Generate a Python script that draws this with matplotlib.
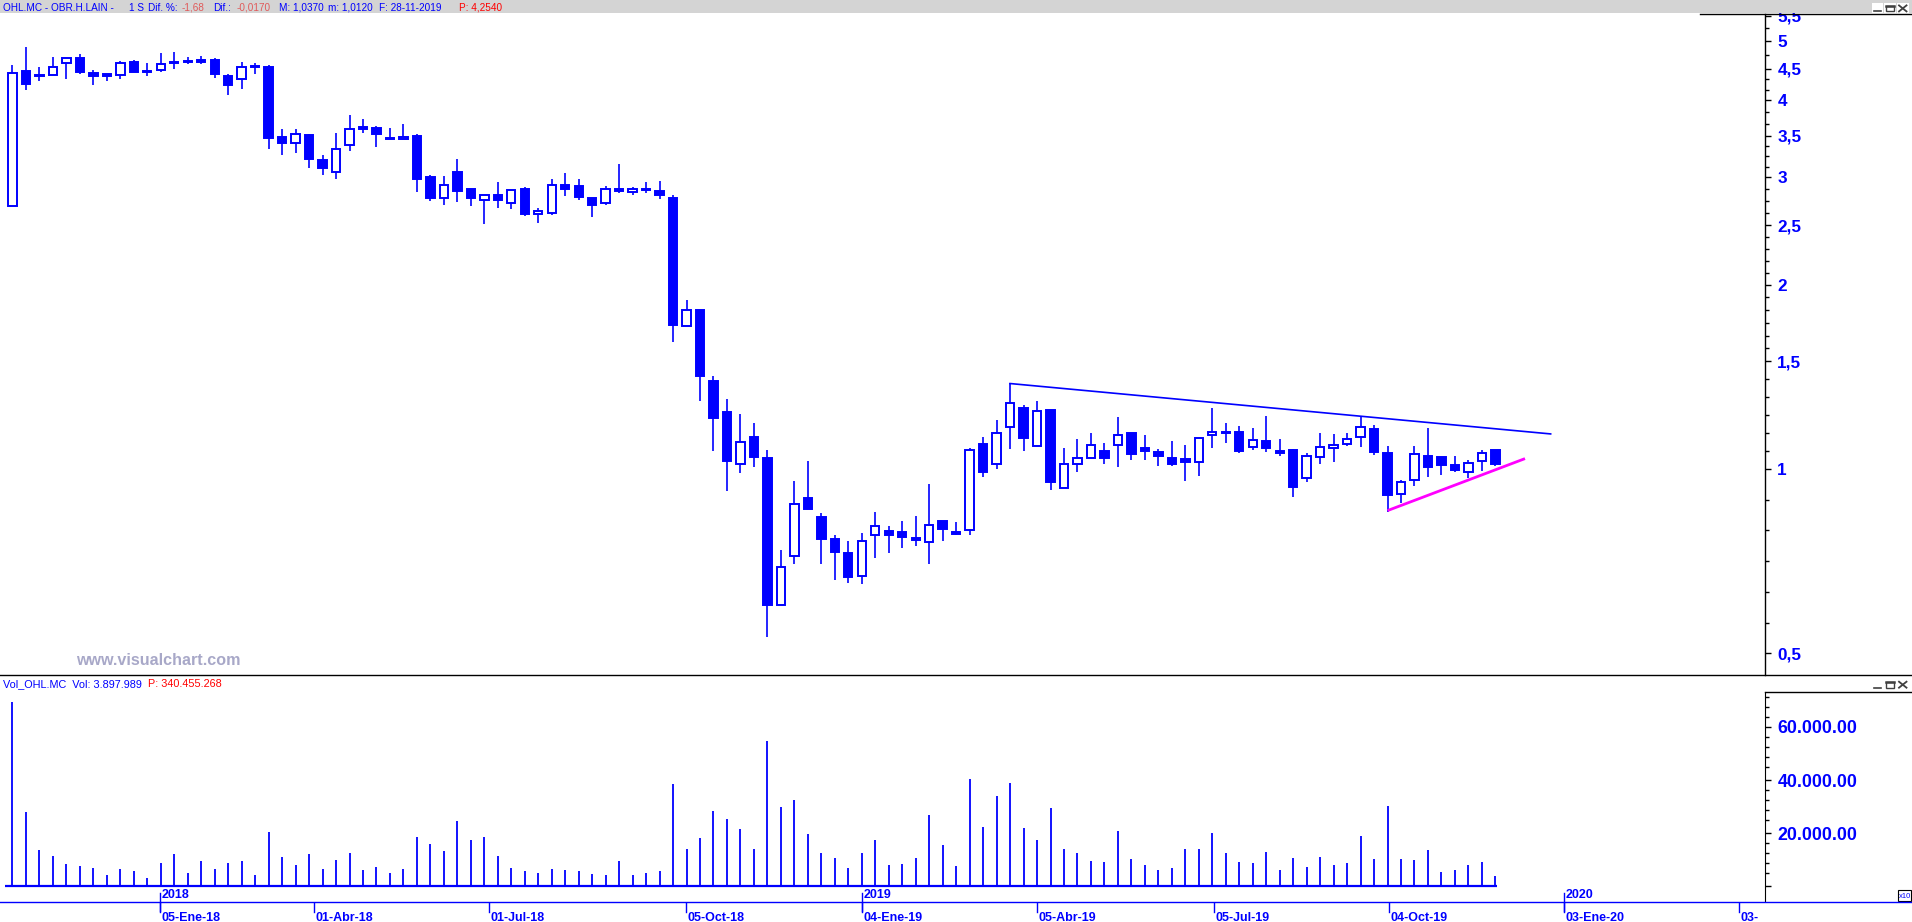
import numpy as np
import matplotlib
matplotlib.use("Agg")
import matplotlib.pyplot as plt
from matplotlib.ticker import FixedLocator, NullFormatter
from matplotlib.patches import Rectangle
import matplotlib.transforms as mtransforms

plt.rcParams['font.family'] = ['Liberation Sans', 'DejaVu Sans']

# ---------------- data (weekly bars, OHL.MC) ----------------
opens = [2.69, 4.46, 4.38, 4.40, 4.60, 4.68, 4.43, 4.41, 4.40, 4.62,
         4.47, 4.49, 4.60, 4.64, 4.65, 4.65, 4.38, 4.34, 4.55, 4.53,
         3.48, 3.40, 3.51, 3.20, 3.05, 3.38, 3.62, 3.60, 3.47, 3.46,
         3.50, 3.00, 2.77, 3.05, 2.86, 2.75, 2.80, 2.72, 2.87, 2.61,
         2.62, 2.91, 2.90, 2.77, 2.72, 2.87, 2.83, 2.86, 2.84, 2.77,
         1.71, 1.82, 1.39, 1.24, 1.02, 1.13, 1.042, 0.600, 0.720, 0.897,
         0.835, 0.769, 0.729, 0.668, 0.779, 0.791, 0.788, 0.772, 0.759, 0.822,
         0.789, 0.794, 1.097, 1.018, 1.170, 1.256, 1.089, 1.248, 0.930, 1.018,
         1.041, 1.069, 1.093, 1.144, 1.081, 1.065, 1.041, 1.037, 1.028, 1.135,
         1.147, 1.149, 1.085, 1.110, 1.070, 1.074, 0.966, 1.045, 1.081, 1.097,
         1.127, 1.161, 1.062, 0.909, 0.958, 1.049, 1.045, 1.015, 0.990, 1.032,
         1.074]
highs = [4.57, 4.88, 4.54, 4.71, 4.68, 4.76, 4.49, 4.42, 4.64, 4.65,
         4.60, 4.78, 4.80, 4.71, 4.72, 4.68, 4.41, 4.62, 4.60, 4.56,
         3.59, 3.59, 3.52, 3.26, 3.54, 3.78, 3.73, 3.63, 3.60, 3.66,
         3.52, 3.02, 3.01, 3.21, 2.87, 2.80, 2.94, 2.85, 2.89, 2.67,
         2.97, 3.04, 2.97, 2.77, 2.90, 3.15, 2.89, 2.94, 2.95, 2.80,
         1.89, 1.82, 1.42, 1.30, 1.23, 1.19, 1.074, 0.737, 0.956, 1.03,
         0.848, 0.780, 0.763, 0.786, 0.851, 0.807, 0.822, 0.838, 0.945, 0.822,
         0.819, 1.081, 1.128, 1.202, 1.380, 1.272, 1.291, 1.248, 1.082, 1.119,
         1.145, 1.103, 1.217, 1.144, 1.138, 1.078, 1.111, 1.096, 1.122, 1.258,
         1.189, 1.175, 1.167, 1.220, 1.121, 1.078, 1.062, 1.145, 1.141, 1.145,
         1.215, 1.179, 1.090, 0.959, 1.090, 1.167, 1.045, 1.050, 1.034, 1.074,
         1.074]
lows = [2.69, 4.16, 4.30, 4.40, 4.33, 4.42, 4.24, 4.30, 4.33, 4.44,
        4.39, 4.44, 4.50, 4.59, 4.59, 4.35, 4.08, 4.18, 4.42, 3.33,
        3.25, 3.28, 3.10, 3.02, 2.98, 3.31, 3.54, 3.36, 3.46, 3.46,
        2.83, 2.74, 2.70, 2.73, 2.69, 2.51, 2.67, 2.66, 2.59, 2.52,
        2.60, 2.79, 2.75, 2.58, 2.70, 2.82, 2.80, 2.82, 2.76, 1.61,
        1.71, 1.29, 1.07, 0.92, 0.986, 1.009, 0.532, 0.599, 0.700, 0.861,
        0.700, 0.659, 0.652, 0.650, 0.716, 0.730, 0.744, 0.750, 0.700, 0.763,
        0.781, 0.781, 0.972, 1.000, 1.078, 1.070, 1.089, 0.925, 0.930, 0.990,
        1.041, 1.020, 1.009, 1.036, 1.036, 1.012, 1.012, 0.957, 0.975, 1.082,
        1.104, 1.062, 1.075, 1.067, 1.051, 0.901, 0.953, 1.019, 1.028, 1.092,
        1.087, 1.055, 0.852, 0.880, 0.939, 0.972, 0.979, 0.989, 0.966, 0.992,
        1.011]
closes = [4.43, 4.26, 4.40, 4.54, 4.68, 4.44, 4.39, 4.38, 4.60, 4.44,
          4.44, 4.58, 4.62, 4.61, 4.62, 4.42, 4.23, 4.53, 4.53, 3.47,
          3.41, 3.53, 3.21, 3.10, 3.33, 3.59, 3.59, 3.53, 3.46, 3.49,
          2.98, 2.77, 2.91, 2.84, 2.77, 2.80, 2.75, 2.85, 2.61, 2.64,
          2.91, 2.87, 2.78, 2.70, 2.87, 2.84, 2.86, 2.85, 2.80, 1.72,
          1.82, 1.42, 1.21, 1.03, 1.106, 1.047, 0.600, 0.691, 0.876, 0.861,
          0.770, 0.733, 0.667, 0.762, 0.806, 0.781, 0.775, 0.767, 0.809, 0.797,
          0.784, 1.073, 0.988, 1.144, 1.280, 1.125, 1.242, 0.953, 1.018, 1.041,
          1.093, 1.043, 1.135, 1.057, 1.069, 1.051, 1.018, 1.028, 1.122, 1.148,
          1.149, 1.071, 1.114, 1.083, 1.063, 0.936, 1.050, 1.085, 1.094, 1.118,
          1.170, 1.067, 0.908, 0.951, 1.057, 1.009, 1.016, 0.997, 1.022, 1.061,
          1.019]
volumes = [69560, 28040, 13700, 11440, 8420, 7660, 6910, 4260, 6530, 5770,
           3130, 8790, 12190, 5020, 9550, 6530, 8790, 9550, 4260, 20490,
           11060, 8040, 12190, 6530, 9930, 12570, 6150, 7280, 5020, 6530,
           18610, 15960, 13320, 24640, 17470, 18610, 11440, 6910, 5770, 5020,
           6530, 6150, 5770, 4640, 4260, 9550, 4260, 5020, 5770, 38610,
           14080, 18230, 28420, 25400, 21630, 14080, 54840, 29930, 32570, 19740,
           12570, 10680, 6910, 12570, 17470, 8040, 8420, 10680, 26910, 15590,
           7660, 40490, 22380, 34080, 38990, 22000, 17470, 29550, 14080, 12570,
           9550, 9170, 20870, 10300, 8040, 6150, 6910, 14080, 14080, 20120,
           12570, 9170, 8790, 12940, 6150, 10680, 7280, 11060, 8040, 8790,
           18980, 10300, 30310, 10300, 9930, 13700, 5400, 6150, 8040, 9170,
           3898]

price_ticks = [0.5, 1, 1.5, 2, 2.5, 3, 3.5, 4, 4.5, 5, 5.5]
price_tick_labels = ['0,5', '1', '1,5', '2', '2,5', '3', '3,5', '4', '4,5', '5', '5,5']
price_minor_div = [6, 6, 6, 5, 4, 4, 3, 3, 2, 2]
vol_ticks = [0, 20000, 40000, 60000]
vol_tick_labels = ['', '20.000.00', '40.000.00', '60.000.00']
date_labels = ['05-Ene-18', '01-Abr-18', '01-Jul-18', '05-Oct-18', '04-Ene-19',
               '05-Abr-19', '05-Jul-19', '04-Oct-19', '03-Ene-20', '03-']
date_pos = [10.94, 22.33, 35.35, 49.96, 63.02, 76.0, 89.1, 102.1, 115.1, 128.1]
year_labels = ['2018', '2019', '2020']
year_pos = [10.94, 63.02, 115.1]

resist_x = [74, 114.1]
resist_y = [1.379, 1.141]
support_x = [102.1, 112.1]
support_y = [0.857, 1.038]

title_segments = [("OHL.MC - OBR.H.LAIN -", 3.0, 'b'), ("1 S", 129.5, 'b'), ("Dif. %:", 148.5, 'b'),
                  ("-1,68", 182, 'l'), ("Dif.:", 213, 'b'), ("-0,0170", 237, 'l'),
                  ("M: 1,0370", 279.5, 'b'), ("m: 1,0120", 328, 'b'),
                  ("F: 28-11-2019", 379, 'b'), ("P: 4,2540", 459.5, 'r')]

# ---------------- figure ----------------
W, H = 1912, 922
BLUE = '#0000FF'
COLS = {'b': BLUE, 'l': '#E05A5A', 'r': '#FF0000'}
fig = plt.figure(figsize=(W / 100, H / 100), dpi=100)
fig.patch.set_facecolor('white')


def fx(px):
    return px / W


def fy(py):
    return 1 - py / H


XL = (-0.927, 130.0)

# price axes
ax = fig.add_axes([0, fy(675), fx(1765), fy(14) - fy(675)])
ax.set_yscale('log')
ax.set_xlim(*XL)
ax.set_ylim(0.461, 5.532)
x = np.arange(len(opens))
o = np.array(opens); h = np.array(highs); l = np.array(lows); c = np.array(closes)
up = c >= o
top = np.maximum(o, c)
bot = np.minimum(o, c)
ax.vlines(x, l, h, color=BLUE, lw=1.2, zorder=2)
ax.bar(x, top - bot, bottom=bot, width=0.62,
       color=np.where(up, 'white', BLUE), edgecolor=BLUE, linewidth=1.4, zorder=3)
ax.plot(resist_x, resist_y, color=BLUE, lw=1.2, zorder=4)
ax.plot(support_x, support_y, color='#FF00FF', lw=2.0, zorder=4)

ax.yaxis.tick_right()
ax.yaxis.set_major_locator(FixedLocator(price_ticks))
ax.set_yticklabels(price_tick_labels, fontweight='bold', fontsize=12.3, color=BLUE)
minor = []
for i, n in enumerate(price_minor_div):
    a, b = np.log(price_ticks[i]), np.log(price_ticks[i + 1])
    for k in range(1, n):
        minor.append(float(np.exp(a + (b - a) * k / n)))
ax.yaxis.set_minor_locator(FixedLocator(minor))
ax.yaxis.set_minor_formatter(NullFormatter())
ax.tick_params(axis='y', which='major', direction='out', length=4.3, width=1.0,
               color='black', pad=4.6)
ax.tick_params(axis='y', which='minor', direction='out', length=2.6, width=1.0, color='black')
ax.set_xticks([])
for s in ['top', 'left', 'bottom']:
    ax.spines[s].set_visible(False)
ax.spines['right'].set_color('black')
ax.spines['right'].set_linewidth(1.0)
ax.set_facecolor('none')

# volume axes
axv = fig.add_axes([0, fy(901), fx(1765), fy(691.5) - fy(901)])
axv.set_xlim(*XL)
axv.set_ylim(-5550, 73330)
axv.vlines(x, 0, volumes, color=BLUE, lw=1.3)
axv.hlines(0, -0.56, len(volumes) - 0.9, color=BLUE, lw=1.6)
axv.yaxis.tick_right()
axv.yaxis.set_major_locator(FixedLocator(vol_ticks))
axv.set_yticklabels(vol_tick_labels, fontweight='bold', fontsize=12.8, color=BLUE)
step = 20000 * 10 / 53.0
vminor = []
for m in vol_ticks[1:]:
    vminor += [m - k * step for k in range(1, 5)]
vminor += [vol_ticks[-1] + k * step for k in range(1, 4)]
axv.yaxis.set_minor_locator(FixedLocator(vminor))
axv.yaxis.set_minor_formatter(NullFormatter())
axv.tick_params(axis='y', which='major', direction='out', length=4.3, width=1.0,
                color='black', pad=4.6)
axv.tick_params(axis='y', which='minor', direction='out', length=2.6, width=1.0, color='black')
axv.set_xticks([])
for s in ['top', 'left', 'bottom']:
    axv.spines[s].set_visible(False)
axv.spines['right'].set_color('black')
axv.set_facecolor('none')

# overlay in pixel coordinates
ov = fig.add_axes([0, 0, 1, 1])
ov.set_xlim(0, W)
ov.set_ylim(H, 0)
ov.axis('off')

# title bar
ov.add_patch(Rectangle((0, 0), W, 13.5, facecolor='#D4D4D4', edgecolor='none', zorder=5))
ov.plot([1700, W], [14.2, 14.2], color='black', lw=1.0, zorder=6)
for txt, xp, col in title_segments:
    ov.text(xp, 7.6, txt, color=COLS[col], fontsize=7.2, ha='left', va='center', zorder=7)


def buttons(y0, boxed):
    xs = [1871.7, 1884.3, 1897.0]
    gc = '#404040'
    if boxed:
        for xb in xs:
            ov.add_patch(Rectangle((xb, y0 - 5), 11.6, 9.7, facecolor='white',
                                   edgecolor='none', zorder=6))
    ov.plot([xs[0] + 2.5, xs[0] + 9.5], [y0 + 3.2, y0 + 3.2], color=gc, lw=1.2, zorder=7)
    ov.add_patch(Rectangle((xs[1] + 2, y0 - 2.6), 7.6, 5.6, facecolor='none',
                           edgecolor=gc, lw=1.0, zorder=7))
    ov.plot([xs[1] + 2, xs[1] + 9.6], [y0 - 2.4, y0 - 2.4], color=gc, lw=1.8, zorder=7)
    ov.plot([xs[2] + 2, xs[2] + 9.5], [y0 - 2.8, y0 + 3.2], color=gc, lw=1.3, zorder=7)
    ov.plot([xs[2] + 2, xs[2] + 9.5], [y0 + 3.2, y0 - 2.8], color=gc, lw=1.3, zorder=7)


buttons(8.2, True)
buttons(684.5, False)

# panel separators
ov.plot([0, W], [675.3, 675.3], color='black', lw=1.0, zorder=6)
ov.plot([1765, W], [691.5, 691.5], color='black', lw=1.0, zorder=6)

# watermark
ov.text(76, 660.5, 'www.visualchart.com', color='#A8A8C8', fontsize=11.6,
        fontweight='bold', ha='left', va='center', zorder=6)

# volume header
ov.text(3, 684, 'Vol_OHL.MC  Vol: 3.897.989', color=BLUE, fontsize=7.8, ha='left', va='center', zorder=7)
ov.text(148, 684, 'P: 340.455.268', color='#FF0000', fontsize=7.8, ha='left', va='center', zorder=7)

# x10 box
ov.add_patch(Rectangle((1898, 890), 13.5, 10.5, facecolor='white', edgecolor='black', lw=0.8, zorder=6))
ov.text(1899, 896, 'x10', color=BLUE, fontsize=5.5, ha='left', va='center', zorder=7)

# date axis
ov.plot([0, W], [902.3, 902.3], color=BLUE, lw=1.0, zorder=6)
bt = mtransforms.blended_transform_factory(axv.transData, ov.transData)
for p, lab in zip(date_pos, date_labels):
    ov.plot([p, p], [903, 912], color=BLUE, lw=1.0, transform=bt, zorder=6)
    ov.text(p, 920.8, lab, color=BLUE, fontsize=9, fontweight='bold', ha='left',
            va='baseline', transform=mtransforms.offset_copy(bt, fig=fig, x=1.5, units='dots'), zorder=7)
for p, lab in zip(year_pos, year_labels):
    ov.plot([p, p], [892.5, 911], color=BLUE, lw=1.0, transform=bt, zorder=6)
    ov.text(p, 897.5, lab, color=BLUE, fontsize=9, fontweight='bold', ha='left',
            va='baseline', transform=mtransforms.offset_copy(bt, fig=fig, x=1.5, units='dots'), zorder=7)

fig.savefig('out.png', dpi=100, facecolor='white')
